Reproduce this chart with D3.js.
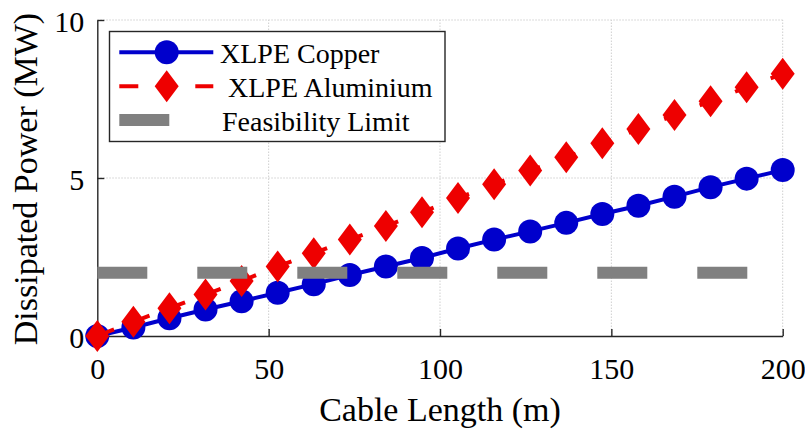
<!DOCTYPE html>
<html>
<head>
<meta charset="utf-8">
<script src="https://cdn.jsdelivr.net/npm/d3@7"></script>
<style>
  html, body { margin: 0; padding: 0; background: #fff; }
  svg { display: block; font-family: "Liberation Serif", "Times New Roman", serif; }
</style>
</head>
<body>
<svg id="chart" width="805" height="431"></svg>
<script>
// Cable length (m) for each computed case
const lengthM = [0, 10.53, 21.05, 31.58, 42.11, 52.63, 63.16, 73.68, 84.21, 94.74,
                 105.26, 115.79, 126.32, 136.84, 147.37, 157.89, 168.42, 178.95, 189.47, 200];
// Dissipated power (MW)
const copperMW = [0, 0.27, 0.56, 0.84, 1.1, 1.37, 1.64, 1.93, 2.2, 2.47,
                  2.77, 3.05, 3.31, 3.58, 3.86, 4.12, 4.41, 4.71, 4.98, 5.25];
const aluminiumMW = [0, 0.45, 0.88, 1.31, 1.74, 2.2, 2.62, 3.05, 3.48, 3.92,
                     4.37, 4.8, 5.24, 5.66, 6.1, 6.55, 6.99, 7.43, 7.87, 8.3];
const limitX = [0, 200];
const limitMW = [2, 2];

const xTicks = [0, 50, 100, 150, 200];
const yTicks = [0, 5, 10];
const seriesNames = ["XLPE Copper", "XLPE Aluminium", "Feasibility Limit"];

const BLUE = "#0000cc", RED = "#ee0000", GRAY = "#808080", AXIS = "#262626";

const svg = d3.select("#chart");
const x = d3.scaleLinear().domain([0, 200]).range([97.3, 782.7]);
const y = d3.scaleLinear().domain([0, 10]).range([336, 20]);

// dotted grid
const grid = svg.append("g").attr("stroke", "#cfcfcf").attr("stroke-width", 1)
  .attr("stroke-dasharray", "1.5,1.5");
xTicks.filter(d => d > 0).forEach(d => {
  grid.append("line").attr("x1", x(d)).attr("x2", x(d)).attr("y1", y(0)).attr("y2", y(10));
});
yTicks.filter(d => d > 0).forEach(d => {
  grid.append("line").attr("x1", x(0)).attr("x2", x(200)).attr("y1", y(d)).attr("y2", y(d));
});

// axes with inward ticks
const xAxis = d3.axisBottom(x).tickValues(xTicks).tickSizeInner(-7).tickSizeOuter(0).tickPadding(14);
const yAxis = d3.axisLeft(y).tickValues(yTicks).tickSizeInner(-7).tickSizeOuter(0).tickPadding(14);

const gx = svg.append("g").attr("transform", `translate(0,${y(0)})`).call(xAxis);
const gy = svg.append("g").attr("transform", `translate(${x(0)},0)`).call(yAxis);
[gx, gy].forEach(g => {
  g.select(".domain").attr("stroke", AXIS).attr("stroke-width", 1.4);
  g.selectAll(".tick line").attr("stroke", AXIS).attr("stroke-width", 1.4);
  g.selectAll(".tick text").attr("fill", "#000")
    .style("font-family", "'Liberation Serif', serif").style("font-size", "30px");
});
gx.selectAll(".tick text").attr("dy", null).attr("y", 43);
gy.selectAll(".tick text").attr("dy", null).attr("y", 11).attr("x", -13);

// axis titles
svg.append("text").attr("x", 440).attr("y", 421).attr("text-anchor", "middle")
  .style("font-size", "34px").attr("fill", "#000").text("Cable Length (m)");
svg.append("text").attr("transform", "translate(37,179) rotate(-90)").attr("text-anchor", "middle")
  .style("font-size", "34px").attr("fill", "#000").text("Dissipated Power (MW)");

const line = d3.line().x(d => x(d[0])).y(d => y(d[1]));
const diamond = "M0,-16L12,0L0,16L-12,0Z";

// copper series
const cu = d3.zip(lengthM, copperMW);
svg.append("path").datum(cu).attr("d", line).attr("fill", "none")
  .attr("stroke", BLUE).attr("stroke-width", 4);
svg.append("g").selectAll("circle").data(cu).join("circle")
  .attr("cx", d => x(d[0])).attr("cy", d => y(d[1])).attr("r", 12).attr("fill", BLUE);

// aluminium series
const al = d3.zip(lengthM, aluminiumMW);
svg.append("path").datum(al).attr("d", line).attr("fill", "none")
  .attr("stroke", RED).attr("stroke-width", 4)
  .attr("stroke-dasharray", "19,19").attr("stroke-dashoffset", 1);
svg.append("g").selectAll("path").data(al).join("path")
  .attr("d", diamond).attr("fill", RED)
  .attr("transform", d => `translate(${x(d[0])},${y(d[1])})`);

// feasibility limit
svg.append("path").datum(d3.zip(limitX, limitMW)).attr("d", line).attr("fill", "none")
  .attr("stroke", GRAY).attr("stroke-width", 12).attr("stroke-dasharray", "50,50");

// legend
const lg = svg.append("g");
lg.append("rect").attr("x", 109.5).attr("y", 31.5).attr("width", 335.5).attr("height", 110)
  .attr("fill", "#fff").attr("stroke", AXIS).attr("stroke-width", 1.4);
const rows = [52.3, 86.3, 120];
const lx1 = 119.3, lx2 = 213.3, lmid = 166.7;
lg.append("line").attr("x1", lx1).attr("x2", lx2).attr("y1", rows[0]).attr("y2", rows[0])
  .attr("stroke", BLUE).attr("stroke-width", 4);
lg.append("circle").attr("cx", lmid).attr("cy", rows[0]).attr("r", 12).attr("fill", BLUE);
lg.append("line").attr("x1", lx1).attr("x2", lx2).attr("y1", rows[1]).attr("y2", rows[1])
  .attr("stroke", RED).attr("stroke-width", 4).attr("stroke-dasharray", "19,19");
lg.append("path").attr("d", diamond).attr("fill", RED).attr("transform", `translate(${lmid},${rows[1]})`);
lg.append("line").attr("x1", lx1).attr("x2", lx2).attr("y1", rows[2]).attr("y2", rows[2])
  .attr("stroke", GRAY).attr("stroke-width", 12).attr("stroke-dasharray", "50,50");
const textX = [220, 228, 222];
seriesNames.forEach((name, i) => {
  lg.append("text").attr("x", textX[i]).attr("y", rows[i] + 10.5)
    .style("font-size", "28px").attr("fill", "#000").text(name);
});
</script>
</body>
</html>
